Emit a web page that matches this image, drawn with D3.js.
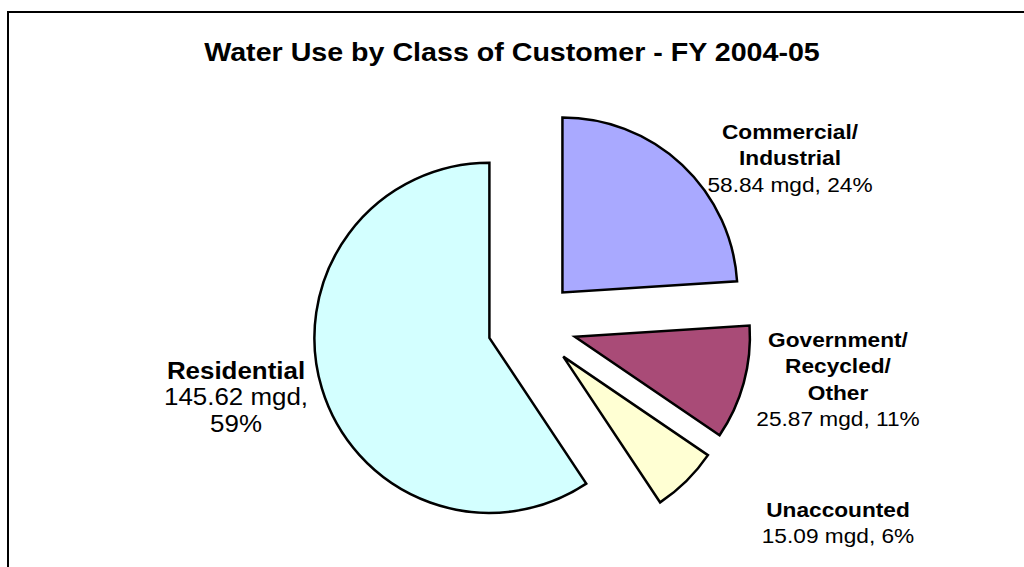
<!DOCTYPE html>
<html>
<head>
<meta charset="utf-8">
<script src="https://cdn.jsdelivr.net/npm/d3@7"></script>
<style>
  body { margin: 0; background: #fff; }
  text { font-family: "Liberation Sans", Arial, sans-serif; fill: #000; }
</style>
</head>
<body>
<svg></svg>
<script>
const categories = ["Commercial/Industrial", "Government/Recycled/Other", "Unaccounted", "Residential"];
const labelLines = [["Commercial/", "Industrial"], ["Government/", "Recycled/", "Other"], ["Unaccounted"], ["Residential"]];
const values = [58.84, 25.87, 15.09, 145.62];
const colors = ["#a9a9ff", "#a94b77", "#ffffd3", "#d3ffff"];

const width = 1024,
  height = 567;

// layout only: pie centre, radius, explosion and label anchors
const cx = 532, cy = 325, radius = 175, explode = 44.5;
const labelPos = [
  { x: 790, y: 139, size: 21 },
  { x: 838, y: 347, size: 21 },
  { x: 838, y: 517, size: 21 },
  { x: 236, y: 379, size: 24 },
];
const lineStep = 26.3;
const sx = 1.08; // text in the source is slightly wider than tall

const svg = d3.select("svg").attr("width", width).attr("height", height);

// chart frame (runs off right and bottom)
svg
  .append("rect")
  .attr("x", 8)
  .attr("y", 12)
  .attr("width", 1200)
  .attr("height", 1000)
  .attr("fill", "none")
  .attr("stroke", "#000")
  .attr("stroke-width", 2);

svg
  .append("text")
  .attr("transform", `translate(${width / 2}, 61) scale(${sx},1)`)
  .attr("text-anchor", "middle")
  .attr("font-size", "26.5px")
  .attr("font-weight", "bold")
  .text("Water Use by Class of Customer - FY 2004-05");

const total = d3.sum(values);
const pct = d3.format(".0%");
const num = d3.format(".2f");
const data = categories.map((c, i) => ({ category: c, value: values[i], i }));

const pie = d3.pie().sort(null).value((d) => d.value);
const arc = d3.arc().innerRadius(0).outerRadius(radius);

const g = svg.append("g").attr("transform", `translate(${cx}, ${cy})`);

g.selectAll(".slice")
  .data(pie(data))
  .enter()
  .append("path")
  .attr("class", "slice")
  .attr("d", arc)
  .attr("transform", (d) => {
    const mid = (d.startAngle + d.endAngle) / 2;
    return `translate(${Math.sin(mid) * explode}, ${-Math.cos(mid) * explode})`;
  })
  .attr("fill", (d) => colors[d.data.i])
  .attr("stroke", "#000")
  .attr("stroke-width", 2.5)
  .attr("stroke-linejoin", "miter");

// labels
data.forEach((d, i) => {
  const lines = labelLines[i].map((t) => ({ t, bold: true }));
  if (d.category === "Residential") {
    lines.push({ t: `${num(d.value)} mgd,`, bold: false });
    lines.push({ t: pct(d.value / total), bold: false });
  } else {
    lines.push({ t: `${num(d.value)} mgd, ${pct(d.value / total)}`, bold: false });
  }
  const p = labelPos[i];
  lines.forEach((l, k) => {
    svg
      .append("text")
      .attr("transform", `translate(${p.x}, ${p.y + k * lineStep}) scale(${sx},1)`)
      .attr("text-anchor", "middle")
      .attr("font-size", p.size + "px")
      .attr("font-weight", l.bold ? "bold" : "normal")
      .text(l.t);
  });
});
</script>
</body>
</html>
